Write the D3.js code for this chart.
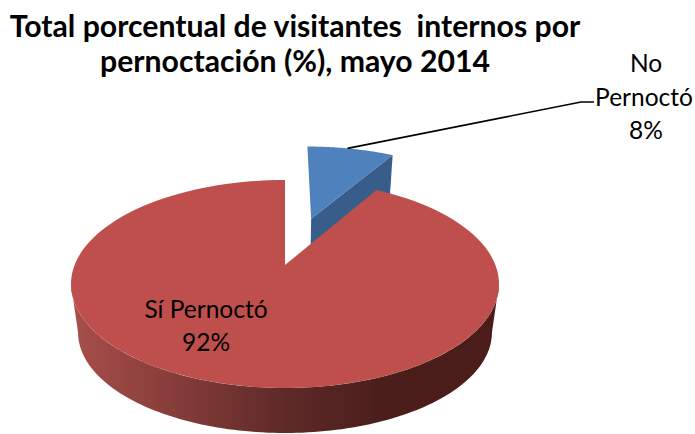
<!DOCTYPE html>
<html lang="es">
<head>
<meta charset="utf-8">
<script src="https://cdn.jsdelivr.net/npm/d3@7"></script>
<style>
  html, body { margin: 0; background: #fff; }
  svg { display: block; }
  text { font-family: Lato, "Open Sans", sans-serif; fill: #000; white-space: pre; }
</style>
</head>
<body>
<svg id="chart" width="695" height="434"></svg>
<script>
const categories = ["Sí Pernoctó", "No Pernoctó"];
const values = [91.6, 8.4];
const colors = ["#be4f4c", "#4f81bd"];
const sideColors = ["#a54e4a", "#385d8a"];
const titleLines = ["Total porcentual de visitantes  internos por", "pernoctación (%), mayo 2014"];

const svg = d3.select("#chart");

// projection of the tilted disc, perspective makes the near half bigger
const tilt = -0.1827;
const depthScale = 0.967;
const depthShift = 57.8;
const sx = d3.scaleLinear().domain([-1, 1]).range([285 - 210.4, 285 + 210.4]);
const sy = d3.scaleLinear().domain([0, 1]).range([265, 265 + 52.1]);

function project(u, v, lower) {
  const w = 1 + tilt * v;
  const px = sx(u / w);
  const py = sy(v) / w;
  if (!lower) return [px, py];
  return [285 + (px - 285) * depthScale, py * depthScale + depthShift];
}

function rim(angle, offset, lower) {
  return project(offset[0] + Math.sin(angle), offset[1] - Math.cos(angle), lower);
}

function arcPoints(a0, a1, offset, lower) {
  return d3.range(0, 121).map((i) => rim(a0 + ((a1 - a0) * i) / 120, offset, lower));
}

const pie = d3.pie().sort(null).startAngle(0).endAngle(2 * Math.PI);
// start the pie at the blue slice, the red one follows clockwise
const arcs = pie([values[1], values[0]]);
const blue = arcs[0];
const red = arcs[1];

const explode = 0.52;
const mid = (blue.startAngle + blue.endAngle) / 2;
const blueOffset = [explode * Math.sin(mid), -explode * Math.cos(mid)];
const redOffset = [0, 0];

const line = d3.line();
const closed = (points) => line(points) + "Z";

const defs = svg.append("defs");
const grad = defs
  .append("linearGradient")
  .attr("id", "redSide")
  .attr("gradientUnits", "userSpaceOnUse")
  .attr("x1", 70)
  .attr("x2", 498)
  .attr("y1", 0)
  .attr("y2", 0);
[
  [0, "#a84f4b"],
  [0.25, "#853c39"],
  [0.5, "#5e2a28"],
  [0.72, "#4b1e1c"],
  [1, "#4a1d1b"],
].forEach((stop) => grad.append("stop").attr("offset", stop[0]).attr("stop-color", stop[1]));

// blue slice: inner wall first, then the top
const blueApex = project(blueOffset[0], blueOffset[1], false);
const blueApexLow = project(blueOffset[0], blueOffset[1], true);
svg
  .append("path")
  .attr("fill", sideColors[1])
  .attr(
    "d",
    closed([
      blueApex,
      rim(blue.endAngle, blueOffset, false),
      rim(blue.endAngle, blueOffset, true),
      blueApexLow,
    ])
  );
svg
  .append("path")
  .attr("fill", colors[1])
  .attr("d", closed([blueApex, ...arcPoints(blue.startAngle, blue.endAngle, blueOffset, false)]));

// red slice: front side, then the top
const frontStart = Math.PI - Math.acos(-tilt);
const frontEnd = Math.PI + Math.acos(-tilt);
svg
  .append("path")
  .attr("fill", "url(#redSide)")
  .attr(
    "d",
    closed([
      ...arcPoints(frontStart, frontEnd, redOffset, false),
      ...arcPoints(frontEnd, frontStart, redOffset, true),
    ])
  );
svg
  .append("path")
  .attr("fill", colors[0])
  .attr(
    "d",
    closed([
      project(redOffset[0], redOffset[1], false),
      ...arcPoints(red.startAngle, red.endAngle, redOffset, false),
    ])
  );

// leader line for the small slice
svg
  .append("path")
  .attr("fill", "none")
  .attr("stroke", "#000")
  .attr("stroke-width", 1.6)
  .attr("d", line([rim(mid - 0.02, blueOffset, false), [581, 102], [594, 102]]));

// title
svg
  .append("g")
  .selectAll("text")
  .data(titleLines)
  .join("text")
  .attr("x", 295)
  .attr("y", (d, i) => 37 + i * 34.5)
  .attr("text-anchor", "middle")
  .attr("font-size", 30.2)
  .attr("font-weight", 700)
  .text((d) => d);

// data labels
const pct = (v) => d3.format(".0f")(v) + "%";
const labels = [
  { text: "No", x: 646, y: 72 },
  { text: "Pernoctó", x: 644, y: 106 },
  { text: pct(values[1]), x: 646, y: 139 },
  { text: categories[0], x: 206, y: 318 },
  { text: pct(values[0]), x: 206, y: 351 },
];
svg
  .append("g")
  .selectAll("text")
  .data(labels)
  .join("text")
  .attr("x", (d) => d.x)
  .attr("y", (d) => d.y)
  .attr("text-anchor", "middle")
  .attr("font-size", 24.5)
  .text((d) => d.text);
</script>
</body>
</html>
